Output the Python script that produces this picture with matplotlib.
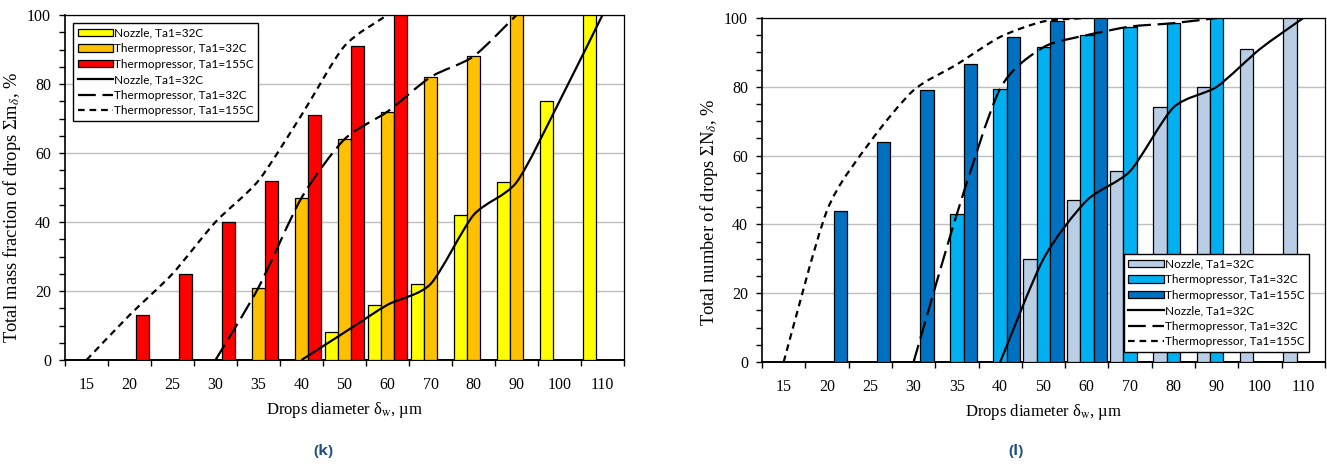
import numpy as np
import matplotlib
matplotlib.use('Agg')
import matplotlib.pyplot as plt
from matplotlib.path import Path
from matplotlib.patches import PathPatch, Patch
from matplotlib.lines import Line2D
from matplotlib.ticker import MultipleLocator, FixedLocator, NullFormatter

plt.rcParams['font.family'] = ['Liberation Serif', 'DejaVu Serif']
plt.rcParams['mathtext.fontset'] = 'stix'

# drop diameter classes, um
diameters = ['15', '20', '25', '30', '35', '40', '50', '60', '70', '80', '90', '100', '110']
nan = np.nan

# (k) total mass fraction of drops, %
mass_nozzle_32 = [nan, nan, nan, nan, nan, nan, 8, 16, 22, 42, 51.5, 75, 100]
mass_thermo_32 = [nan, nan, nan, nan, 21, 47, 64, 72, 82, 88, 100, nan, nan]
mass_thermo_155 = [nan, 13, 25, 40, 52, 71, 91, 100, nan, nan, nan, nan, nan]
mass_line_nozzle_32 = [nan, nan, nan, nan, nan, 0, 8, 16, 22, 42, 51.5, 75, 100]
mass_line_thermo_32 = [nan, nan, nan, 0, 21, 47, 64, 72, 82, 88, 100, nan, nan]
mass_line_thermo_155 = [0, 13, 25, 40, 52, 71, 91, 100, nan, nan, nan, nan, nan]

# (l) total number of drops, %
num_nozzle_32 = [nan, nan, nan, nan, nan, nan, 30, 47, 55.5, 74, 80, 91, 100]
num_thermo_32 = [nan, nan, nan, nan, 43, 79.5, 91.5, 95, 97.5, 98.5, 100, nan, nan]
num_thermo_155 = [nan, 44, 64, 79, 86.5, 94.5, 99, 100, nan, nan, nan, nan, nan]
num_line_nozzle_32 = [nan, nan, nan, nan, nan, 0, 30, 47, 55.5, 74, 80, 91, 100]
num_line_thermo_32 = [nan, nan, nan, 0, 43, 79.5, 91.5, 95, 97.5, 98.5, 100, nan, nan]
num_line_thermo_155 = [0, 44, 64, 79, 86.5, 94.5, 99, 100, nan, nan, nan, nan, nan]

series_names = ['Nozzle, Ta1=32C', 'Thermopressor, Ta1=32C', 'Thermopressor, Ta1=155C']
warm_colors = ['#ffff00', '#ffc000', '#ff0000']
blue_colors = ['#b9cde5', '#00b0f0', '#0070c0']
line_styles = ['-', (0, (8, 3)), (0, (3, 2.2))]

LEGEND_FONT = ['Lato', 'DejaVu Sans']


def smooth_line(ax, xs, ys, ls):
    # Excel-like smoothed line: bezier through the data points
    pts = [(x, y) for x, y in zip(xs, ys) if not np.isnan(y)]
    pts = np.array(pts, dtype=float)
    n = len(pts)
    verts = [pts[0]]
    codes = [Path.MOVETO]
    for i in range(n - 1):
        p0 = pts[i - 1] if i > 0 else pts[i]
        p1 = pts[i]
        p2 = pts[i + 1]
        p3 = pts[i + 2] if i + 2 < n else pts[i + 1]
        verts += [p1 + (p2 - p0) / 8, p2 - (p3 - p1) / 8, p2]
        codes += [Path.CURVE4] * 3
    patch = PathPatch(Path(verts, codes), fill=False, edgecolor='black',
                      linewidth=1.6, linestyle=ls, zorder=4, capstyle='butt')
    ax.add_patch(patch)


def draw_panel(ax, bars, lines, colors, ylabel, ylabel_xy, legend_loc, legend_anchor):
    x = np.arange(len(diameters))
    w = 0.31
    for k, (vals, c) in enumerate(zip(bars, colors)):
        ax.bar(x + (k - 1) * w, vals, width=w, color=c, edgecolor='black',
               linewidth=0.9, zorder=3)
    for vals, ls in zip(lines, line_styles):
        smooth_line(ax, x, vals, ls)

    ax.set_xlim(-0.5, len(diameters) - 0.5)
    ax.set_ylim(0, 100)
    ax.xaxis.set_major_locator(FixedLocator(np.arange(len(diameters) + 1) - 0.5))
    ax.xaxis.set_major_formatter(NullFormatter())
    ax.xaxis.set_minor_locator(FixedLocator(x))
    ax.set_xticklabels(diameters, minor=True)
    ax.tick_params(axis='x', which='major', direction='out', length=4.5, width=1)
    ax.tick_params(axis='x', which='minor', length=0, pad=12, labelsize=11.5)
    ax.yaxis.set_major_locator(MultipleLocator(20))
    ax.yaxis.set_minor_locator(MultipleLocator(5))
    ax.tick_params(axis='y', which='both', direction='out', length=4, width=1,
                   labelsize=11.5, pad=6)
    ax.grid(axis='y', which='major', color='#bfbfbf', linewidth=1, zorder=0)
    ax.set_axisbelow(True)
    for s in ax.spines.values():
        s.set_linewidth(0.9)
    ax.spines['bottom'].set_linewidth(1.4)
    ax.spines['left'].set_linewidth(1.2)

    ax.set_xlabel('Drops diameter δ$_{\\rm w}$, µm', fontsize=12, labelpad=5)
    ax.set_ylabel(ylabel, fontsize=13.3)
    ax.yaxis.set_label_coords(*ylabel_xy)

    handles = [Patch(facecolor=c, edgecolor='black', linewidth=0.9) for c in colors]
    handles += [Line2D([], [], color='black', linewidth=1.6, linestyle=ls) for ls in line_styles]
    labels = series_names + series_names
    ax.legend(handles, labels, loc=legend_loc, bbox_to_anchor=legend_anchor,
              borderaxespad=0, fancybox=False, framealpha=1, edgecolor='black',
              prop={'family': LEGEND_FONT, 'size': 8.5}, handlelength=3.0,
              handleheight=0.6, handletextpad=0.1, labelspacing=0.38,
              borderpad=0.4)


fig = plt.figure(figsize=(13.27, 4.65), dpi=100)
ax1 = fig.add_axes([65 / 1327, 1 - 360 / 465, 559 / 1327, 345 / 465])
ax2 = fig.add_axes([762 / 1327, 1 - 362 / 465, 563 / 1327, 344 / 465])

draw_panel(ax1, [mass_nozzle_32, mass_thermo_32, mass_thermo_155],
           [mass_line_nozzle_32, mass_line_thermo_32, mass_line_thermo_155],
           warm_colors, 'Total mass fraction of drops Σm$_{\\delta}$, %',
           (-0.075, 0.443), 'upper left', (0.014, 0.977))
draw_panel(ax2, [num_nozzle_32, num_thermo_32, num_thermo_155],
           [num_line_nozzle_32, num_line_thermo_32, num_line_thermo_155],
           blue_colors, 'Total number of drops ΣN$_{\\delta}$, %',
           (-0.075, 0.436), 'lower right', (0.972, 0.029))

fig.text(323 / 1327, 1 - 451 / 465, '(k)', ha='center', va='center', fontsize=11,
         fontweight='bold', color='#1f4e79', family=['Open Sans', 'DejaVu Sans'])
fig.text(1016 / 1327, 1 - 451 / 465, '(l)', ha='center', va='center', fontsize=11,
         fontweight='bold', color='#1f4e79', family=['Open Sans', 'DejaVu Sans'])

fig.savefig('out.png', dpi=100)
